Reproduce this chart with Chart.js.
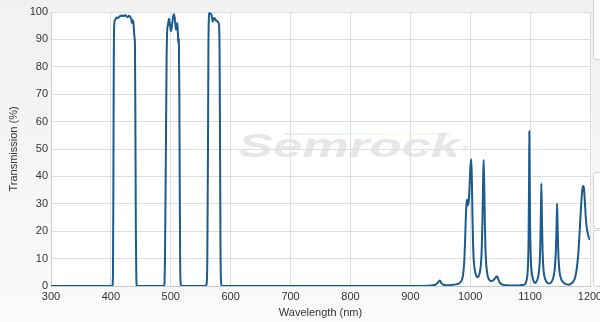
<!DOCTYPE html>
<html>
<head>
<meta charset="utf-8">
<script src="https://cdn.jsdelivr.net/npm/chart.js@4"></script>
<style>
html,body{margin:0;padding:0;background:#fff;}
#wrap{width:600px;height:322px;position:relative;}
</style>
</head>
<body>
<div id="wrap"><canvas id="c" width="600" height="322"></canvas></div>
<script>
// ---- data ----
const base1Wl = [300, 400, 402.5];
const base1T  = [0, 0, 0];

const band1Wl = [403.5, 404.2, 404.8, 405.5, 406.5, 408, 410, 412, 414, 416, 418, 420, 422, 424, 426, 428, 430, 432, 434, 435, 436, 437.5, 438.5, 439.3, 440.2, 441, 441.7, 442.5, 443.5];
const band1T  = [5, 40, 80, 95, 97, 97.5, 98, 97.8, 98.3, 98.5, 98.8, 98.5, 98.6, 98.9, 98.4, 98.1, 98.6, 98.3, 97.5, 96, 97, 96.5, 93.5, 91, 88, 55, 20, 3, 0];

const band2Wl = [488, 489.3, 490.3, 491.3, 492.2, 493, 494, 495.5, 497, 498.5, 500.5, 502.5, 504, 505.5, 507, 508.8, 510, 511, 512, 512.7, 513.5, 514.3, 515, 515.7, 516.5, 517.5];
const band2T  = [0, 0.5, 10, 35, 60, 82, 93, 95.5, 97.5, 95.5, 93, 96, 98.5, 99.2, 97, 93.5, 95, 96, 91.5, 88.5, 90, 70, 35, 8, 1, 0];

const band3Wl = [558, 560, 561, 562, 562.8, 563.5, 564.5, 566, 568, 569, 570, 571.5, 573, 575, 577, 579, 580.5, 581.5, 582.3, 583, 583.8, 585];
const band3T  = [0, 1, 10, 45, 85, 97, 99.6, 99.4, 99, 97.5, 96.5, 97.5, 97.8, 97, 96.8, 96.3, 95.5, 85, 50, 15, 2, 0];

const base2Wl = [600, 700, 800, 900, 930];
const base2T  = [0, 0, 0, 0, 0.1];

const peaksAWl = [938, 943, 946, 948, 949, 950.5, 952, 955, 960, 970, 978, 982, 985, 988, 990, 991.5, 992.8, 994, 994.8, 996.2, 997.5, 999, 1000.5, 1001.8, 1002.8, 1003.8, 1004.8, 1006, 1008, 1010, 1012, 1014, 1016.5, 1018.4, 1019.4, 1020.4, 1021.4, 1022.4, 1023.4, 1024.4, 1025.4, 1026.4, 1028.4, 1031, 1035, 1039, 1042, 1043.5, 1044.7, 1046, 1048, 1050, 1053, 1060];
const peaksAT  = [0.3, 0.6, 1.2, 1.8, 2.0, 1.6, 1.0, 0.5, 0.3, 0.4, 0.7, 1.1, 1.8, 4, 9, 17, 26, 30.5, 31.5, 29.5, 31, 37, 44, 46.3, 38, 25, 15, 9, 5.5, 3.8, 3.2, 3.5, 5.5, 9.5, 15, 24, 37, 46, 37, 23, 14, 9, 4.5, 2.5, 1.8, 2.2, 3, 3.4, 3.6, 3, 1.8, 1.1, 0.6, 0.3];

const peaksBWl = [1075, 1085, 1090, 1092, 1094, 1095.5, 1096.7, 1097.5, 1098.2, 1098.7, 1099.3, 1100, 1101, 1102, 1103.5, 1105.5, 1107.6, 1110, 1112, 1114, 1115.5, 1116.8, 1117.8, 1118.8, 1119.8, 1120.8, 1122, 1123.5, 1125.5, 1128, 1131, 1134, 1137, 1139.5, 1141.5, 1143, 1144.2, 1145, 1145.9, 1147, 1148.5, 1150.5, 1153, 1157, 1161, 1164.4, 1168, 1172, 1175, 1178, 1180.5, 1182.5, 1184.5, 1186.5, 1188, 1189, 1190, 1191.5, 1193.3, 1195.5, 1197.8, 1200];
const peaksBT  = [0.2, 0.3, 0.5, 0.8, 2, 4, 9, 18, 38, 56.5, 40, 22, 11, 6.5, 3.8, 2, 1.1, 1.4, 2.2, 4, 7, 13, 24, 37.4, 24, 13, 7, 4, 2.3, 1.3, 0.9, 1.1, 2, 3.8, 7, 13, 22, 30.1, 22, 12.5, 6.5, 3.5, 2, 1, 0.6, 0.5, 0.8, 1.6, 3, 6.5, 12, 19, 27, 33.5, 36.2, 36.5, 35.5, 30.5, 24, 20, 17.9, 16.8];

const xTicks = [300, 400, 500, 600, 700, 800, 900, 1000, 1100, 1200];
const yTicks = [0, 10, 20, 30, 40, 50, 60, 70, 80, 90, 100];
const xTitle = 'Wavelength (nm)';
const yTitle = 'Transmission (%)';
const watermark = 'Semrock';

// ---- build points ----
const wl = [].concat(base1Wl, band1Wl, band2Wl, band3Wl, base2Wl, peaksAWl, peaksBWl);
const tr = [].concat(base1T, band1T, band2T, band3T, base2T, peaksAT, peaksBT);
const points = wl.map((w, i) => ({x: w, y: tr[i]}));

const FONT = "'Liberation Sans', Arial, sans-serif";

const bgPlugin = {
  id: 'bg',
  beforeDraw(chart) {
    const ctx = chart.ctx, a = chart.chartArea;
    const W = chart.width, H = chart.height;
    ctx.save();
    const g = ctx.createLinearGradient(0, 0, 0, H);
    g.addColorStop(0, '#f1f1f1');
    g.addColorStop(1, '#fafafa');
    ctx.fillStyle = g;
    ctx.fillRect(0, 0, W, H);
    ctx.fillStyle = '#ffffff';
    ctx.fillRect(a.left, a.top, a.right - a.left, a.bottom - a.top);
    // side panel boxes (cut off at right edge)
    ctx.strokeStyle = '#cfcfcf';
    ctx.lineWidth = 1;
    [[-5, 59], [172, 228], [230, 286]].forEach(([y0, y1]) => {
      ctx.beginPath();
      ctx.roundRect(593.5, y0 + 0.5, 40, y1 - y0, 3);
      ctx.fillStyle = '#ffffff';
      ctx.fill();
      ctx.stroke();
    });
    // watermark
    const cx = 238, baseY = 157, targetW = 222;
    ctx.font = 'italic bold 33px ' + FONT;
    const mw = ctx.measureText(watermark).width;
    ctx.translate(cx, baseY);
    ctx.scale(targetW / mw, 1);
    ctx.fillStyle = '#e7e7e7';
    ctx.textBaseline = 'alphabetic';
    ctx.fillText(watermark, 0, 0);
    ctx.setTransform(1, 0, 0, 1, 0, 0);
    ctx.font = '9px ' + FONT;
    ctx.fillStyle = '#e2e2e2';
    ctx.fillText('\u00AE', 462, 152);
    const rg = ctx.createLinearGradient(283, 0, 450, 0);
    rg.addColorStop(0, 'rgba(200,200,255,0.35)');
    rg.addColorStop(0.3, 'rgba(180,220,255,0.35)');
    rg.addColorStop(0.5, 'rgba(200,255,200,0.35)');
    rg.addColorStop(0.7, 'rgba(255,250,190,0.35)');
    rg.addColorStop(1, 'rgba(255,200,200,0.35)');
    ctx.strokeStyle = rg;
    ctx.lineWidth = 2;
    ctx.beginPath();
    ctx.moveTo(283, 134);
    ctx.lineTo(450, 134);
    ctx.stroke();
    ctx.restore();
  }
};

new Chart(document.getElementById('c'), {
  type: 'line',
  data: {
    datasets: [{
      data: points,
      borderColor: '#1b5b8d',
      borderWidth: 2,
      pointRadius: 0,
      fill: false,
      cubicInterpolationMode: 'monotone'
    }]
  },
  options: {
    responsive: false,
    animation: false,
    events: [],
    layout: {padding: {top: 12, right: 10, left: 0, bottom: 0}},
    plugins: {legend: {display: false}, tooltip: {enabled: false}},
    scales: {
      x: {
        type: 'linear',
        min: xTicks[0],
        max: xTicks[xTicks.length - 1],
        afterBuildTicks(s) { s.ticks = xTicks.map(v => ({value: v})); },
        afterFit(s) { s.height = 36; s.paddingLeft = 0; s.paddingRight = 0; },
        grid: {color: '#dedede', lineWidth: 1, drawTicks: false},
        border: {color: '#c8c8c8', width: 1},
        ticks: {padding: 4, color: '#333', font: {family: FONT, size: 11}, maxRotation: 0, callback: v => String(v)},
        title: {display: true, text: xTitle, color: '#333', font: {family: FONT, size: 11}, padding: {top: 0, bottom: 2}}
      },
      y: {
        min: yTicks[0],
        max: yTicks[yTicks.length - 1],
        afterBuildTicks(s) { s.ticks = yTicks.map(v => ({value: v})); },
        afterFit(s) { s.width = 51; s.paddingTop = 0; s.paddingBottom = 0; },
        grid: {color: '#dedede', lineWidth: 1, drawTicks: false},
        border: {color: '#d0d0d0', width: 1},
        ticks: {padding: 3, color: '#333', font: {family: FONT, size: 11}, callback: v => String(v)},
        title: {display: true, text: yTitle, color: '#333', font: {family: FONT, size: 11}, padding: {top: 7, bottom: 0}}
      }
    }
  },
  plugins: [bgPlugin]
});
</script>
</body>
</html>
